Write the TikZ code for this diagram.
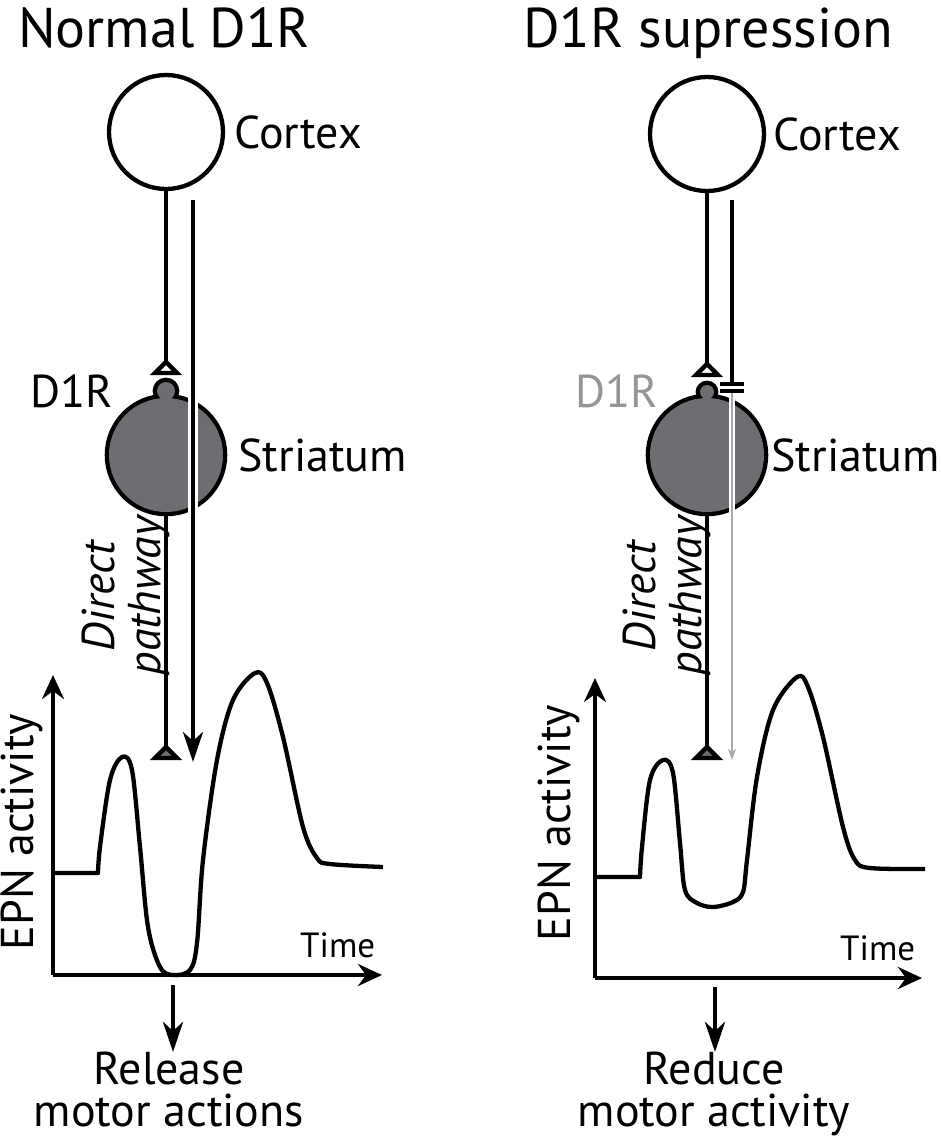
\documentclass[tikz,border=0pt]{standalone}
\usepackage{fontspec}
\setmainfont{PT Sans}
\usetikzlibrary{arrows.meta,positioning}
\definecolor{cellgray}{HTML}{6D6E71}
\definecolor{supgray}{HTML}{A7A9AC}
\definecolor{rcptgray}{HTML}{939598}
\begin{document}
\begin{tikzpicture}[x=1pt,y=-1pt,
    every node/.style = {inner sep=0pt},
    txt/.style = {font=\fontsize{46}{42}\selectfont},
    ttl/.style = {font=\fontsize{56}{60}\selectfont},
    neuron/.style = {draw, circle, line width=4.3pt, minimum size=114pt},
    soma/.style = {circle, minimum size=114pt},
    axon/.style = {line width=4.3pt},
    synapse/.style = {line width=4.3pt, fill=white},
    outsyn/.style = {line width=4.3pt, fill=cellgray},
    axis/.style = {line width=4.3pt, -{Stealth[length=24pt,width=22pt,inset=8pt]}},
    down/.style = {line width=4.3pt, -{Stealth[length=30pt,width=20pt,inset=9pt]}},
    trace/.style = {line width=4.3pt, line join=round}]
\tikzstyle{gap}=[white, line width=10pt]
\useasboundingbox (0,0) rectangle (941,1141);

% ---------- normal D1R ----------
\node[ttl, anchor=base west] (titleL) at (18,47) {Normal D1R};
\node[neuron] (cortexL) at (166,132) {};
\node[txt, right=9pt of cortexL] (cortexlabL) {Cortex};
\node[soma] (striL) at (166,455) {};
\draw[line width=8.6pt] (166,391) circle (9) (striL.center) circle (57);
\fill[cellgray] (166,391) circle (9) (striL.center) circle (57);
\node[txt, right=15pt of striL] (strilabL) {Striatum};
\node[txt, anchor=base east] (d1rL) at (113,407) {D1R};
\coordinate (synL) at (166,362);
\coordinate (cort2L) at (193,200);
\coordinate (arrL) at (193,762);
\coordinate (synL2) at (166,747);
\draw[gap] (cort2L) -- (arrL);
\draw[axon] (cortexL.south) -- (synL);
\draw[synapse] (synL) -- ++(11,11) -- ++(-22,0) -- cycle;
\draw[down] (cort2L) -- (arrL);
\draw[axon] (striL.south) -- (synL2);
\draw[outsyn] (synL2) -- ++(11,11) -- ++(-22,0) -- cycle;
\node[txt, rotate=90, align=center, font=\fontsize{46}{46}\selectfont\itshape] (pathL) at (126,596) {Direct\\pathway};

% EPN plot
\coordinate (originL) at (53,975);
\draw[axis] (originL) -- (53,675);
\draw[axis] (originL) -- (382,975);
\node[txt, rotate=90, anchor=base] (epnL) at (33,832) {EPN activity};
\node[anchor=base west, font=\fontsize{35}{35}\selectfont] (timeL) at (300,957) {Time};
\draw[trace] (53,873) -- (98,873) -- plot[smooth, tension=0.55] coordinates {
  (98,873) (100,847) (110,780) (122,757) (132,770) (140,847) (148,927)
  (160,967) (173,975) (190,970) (197,943) (203,860) (217,760) (233,700)
  (255,673) (267,683) (283,737) (303,827) (317,858) (330,864) (383,867)};
\node[txt, align=center, anchor=north] (outL) at (169,1052) {Release\\motor actions};
\coordinate (downL) at (173,985);
\draw[down] (downL) -- (downL |- outL.north);

% ---------- D1R supression ----------
\node[ttl, anchor=base west] (titleR) at (523,47) {D1R supression};
\node[neuron] (cortexR) at (707,134) {};
\node[txt, right=7pt of cortexR] (cortexlabR) {Cortex};
\node[soma] (striR) at (707,455) {};
\draw[line width=8.6pt] (707,392) circle (7) (striR.center) circle (57);
\fill[cellgray] (707,392) circle (7) (striR.center) circle (57);
\node[txt, right=7pt of striR] (strilabR) {Striatum};
\node[txt, anchor=base east, text=rcptgray] (d1rR) at (658,407) {D1R};
\coordinate (synR) at (707,364);
\coordinate (cort2R) at (732,200);
\coordinate (blockR) at (732,384);
\coordinate (leakR) at (732,393);
\coordinate (arrR) at (732,760);
\coordinate (synR2) at (707,747);
\draw[axon] (cortexR.south) -- (synR);
\draw[synapse] (synR) -- ++(11,11) -- ++(-22,0) -- cycle;
\draw[axon] (cort2R) -- (blockR);
\draw[line width=3.5pt] (720,384) -- (744,384) (720,391) -- (744,391);
\draw[white, line width=6pt] (leakR) -- (arrR);
\draw[supgray, line width=2pt, -{Stealth[length=11pt,width=8pt,inset=3pt]}] (leakR) -- (arrR);
\draw[axon] (striR.south) -- (synR2);
\draw[outsyn] (synR2) -- ++(11,11) -- ++(-22,0) -- cycle;
\node[txt, rotate=90, align=center, font=\fontsize{46}{46}\selectfont\itshape] (pathR) at (667,596) {Direct\\pathway};

% EPN plot
\coordinate (originR) at (595,978);
\draw[axis] (originR) -- (595,678);
\draw[axis] (originR) -- (922,978);
\node[txt, rotate=90, anchor=base] (epnR) at (570,823) {EPN activity};
\node[anchor=base west, font=\fontsize{35}{35}\selectfont] (timeR) at (840,960) {Time};
\draw[trace] (595,877) -- (640,877) -- plot[smooth, tension=0.55] coordinates {
  (640,877) (642,847) (650,780) (663,760) (673,773) (680,843) (685,890)
  (697,903) (713,907) (733,902) (743,892) (747,860) (757,777) (773,710)
  (797,677) (808,687) (823,737) (843,827) (855,860) (870,868) (925,869)};
\node[txt, align=center, anchor=north] (outR) at (714,1052) {Reduce\\motor activity};
\coordinate (downR) at (715,987);
\draw[down] (downR) -- (downR |- outR.north);
\end{tikzpicture}
\end{document}
